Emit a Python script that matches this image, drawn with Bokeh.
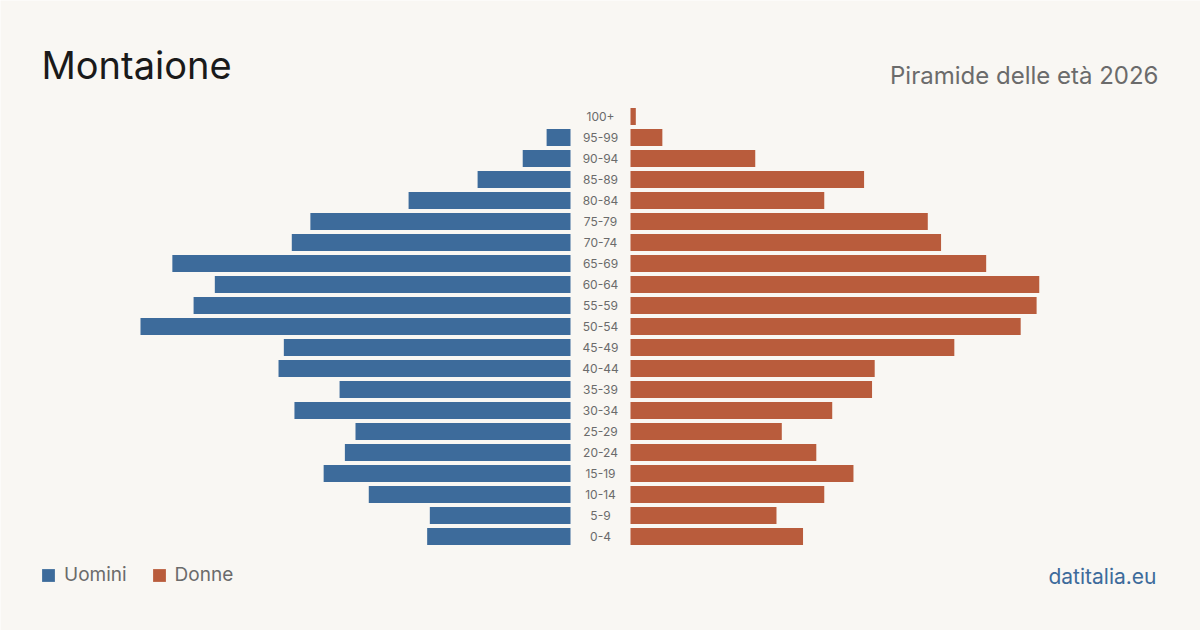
from bokeh.plotting import figure
from bokeh.models import ColumnDataSource, Range1d, Label, Legend, LegendItem
from bokeh.core.properties import value
from bokeh.embed import file_html
from bokeh.resources import INLINE

# ---- data ----
age_groups = ["0-4", "5-9", "10-14", "15-19", "20-24", "25-29", "30-34", "35-39",
              "40-44", "45-49", "50-54", "55-59", "60-64", "65-69", "70-74",
              "75-79", "80-84", "85-89", "90-94", "95-99", "100+"]
uomini = [54, 53, 76, 93, 85, 81, 104, 87, 110, 108, 162, 142, 134, 150, 105,
          98, 61, 35, 18, 9, 0]
donne = [65, 55, 73, 84, 70, 57, 76, 91, 92, 122, 147, 153, 154, 134, 117,
         112, 73, 88, 47, 12, 2]
title = "Montaione"
subtitle = "Piramide delle età 2026"
source_label = "datitalia.eu"

# ---- style ----
BG = "#f9f7f3"
BLUE = "#3d6b9b"
ORANGE = "#b95c3c"
FONT = "Inter"
W, H = 1200, 630
PX_PER_UNIT = 430 / 162.0
GAP = 30 / PX_PER_UNIT
ROW = 21.0
BOTTOM_ROW_PX = 94.0

idx = list(range(len(age_groups)))
src = ColumnDataSource(dict(
    y=idx,
    age=age_groups,
    m_left=[-GAP - v for v in uomini],
    m_right=[-GAP] * len(uomini),
    f_left=[GAP] * len(donne),
    f_right=[GAP + v for v in donne],
    zero=[0] * len(idx),
))

half = (W / 2) / PX_PER_UNIT
p = figure(width=W, height=H, output_backend="svg", toolbar_location=None,
           x_range=Range1d(-half, half),
           y_range=Range1d(-BOTTOM_ROW_PX / ROW, (H - BOTTOM_ROW_PX) / ROW),
           min_border=0, min_border_left=0, min_border_right=0,
           min_border_top=0, min_border_bottom=0)
p.background_fill_color = BG
p.border_fill_color = BG
p.outline_line_color = None
p.xaxis.visible = False
p.yaxis.visible = False
p.grid.visible = False

bar_h = 17 / ROW
r_m = p.hbar(y="y", left="m_left", right="m_right", height=bar_h, source=src,
             fill_color=BLUE, line_color=None)
r_f = p.hbar(y="y", left="f_left", right="f_right", height=bar_h, source=src,
             fill_color=ORANGE, line_color=None)

p.text(x="zero", y="y", text="age", source=src, text_align="center",
       text_baseline="middle", text_font=value(FONT), text_font_size="12px",
       text_color="#6b6b6b")

p.add_layout(Label(x=41, y=H - 64, x_units="screen", y_units="screen", text=title,
                   text_font=FONT, text_font_size="38px", text_color="#1a1a1a",
                   text_baseline="alphabetic"))
p.add_layout(Label(x=1158, y=H - 75, x_units="screen", y_units="screen", text=subtitle,
                   text_font=FONT, text_font_size="24px", text_color="#6b6b6b",
                   text_align="right", text_baseline="alphabetic"))
p.add_layout(Label(x=1156, y=H - 576, x_units="screen", y_units="screen", text=source_label,
                   text_font=FONT, text_font_size="21px", text_color=BLUE,
                   text_align="right", text_baseline="alphabetic"))

legend = Legend(items=[LegendItem(label="Uomini", renderers=[r_m]),
                       LegendItem(label="Donne", renderers=[r_f])],
                location=(40, H - 586), orientation="horizontal",
                glyph_width=16, glyph_height=16, label_standoff=8, spacing=24,
                padding=0, margin=0, label_height=16,
                label_text_font=FONT, label_text_font_size="19px",
                label_text_color="#6b6b6b", label_text_baseline="middle",
                border_line_color=None, background_fill_alpha=0)
p.add_layout(legend)

open("out.html", "w").write(file_html(p, INLINE))
